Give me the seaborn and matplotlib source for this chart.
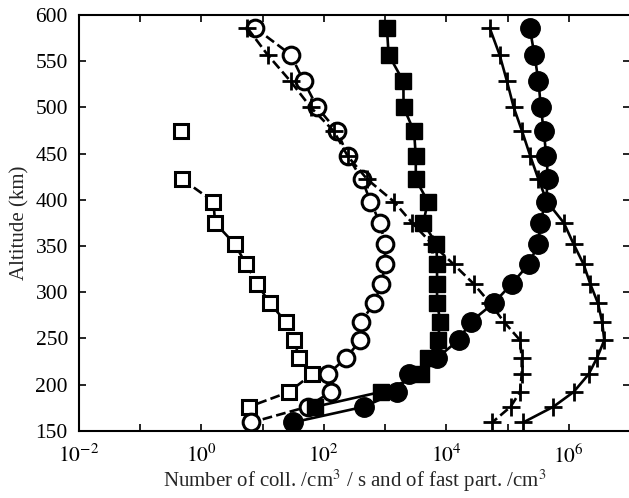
import numpy as np
import pandas as pd
import matplotlib
matplotlib.use("Agg")
import matplotlib.pyplot as plt
import seaborn as sns
from matplotlib.ticker import FixedLocator, FuncFormatter, NullLocator

sns.set_theme(style="ticks")
plt.rcParams["font.family"] = ["Liberation Serif", "DejaVu Serif"]
plt.rcParams["mathtext.fontset"] = "stix"

# Altitude grid (km), top to bottom
altitude = [586, 557, 528, 500, 474, 447, 422, 398, 375, 352,
            330, 309, 288, 268, 248, 229, 211, 192, 176, 159]

# Collision rates (/cm^3/s), dashed curves
coll_squares_alt = [422, 398, 375, 352, 330, 309, 288, 268, 248, 229, 211, 192, 176]
coll_squares = [0.49, 1.57, 1.67, 3.5, 5.4, 8.2, 13, 24, 33, 39, 63, 27, 6.0]
coll_square_isolated_alt = [474]
coll_square_isolated = [0.46]

coll_circles_alt = altitude
coll_circles = [7.5, 28.7, 47, 78, 166, 246, 420, 576, 822, 1000,
                1000, 870, 660, 405, 395, 232, 115, 129, 54, 6.5]

coll_plus_alt = altitude
coll_plus = [5.6, 12, 28.7, 61, 146, 246, 513, 1390, 2760, 5900,
             13200, 28000, 52000, 87000, 1.6e5, 1.7e5, 1.7e5, 1.6e5, 1.12e5, 5.6e4]

# Fast-particle densities (/cm^3), solid curves
fast_squares_alt = altitude[:-1]
fast_squares = [1070, 1140, 1990, 2000, 2970, 3170, 3170, 5000, 4200, 6900,
                7050, 7050, 7050, 8000, 7200, 5100, 3900, 850, 72]

fast_circles_alt = altitude
fast_circles = [2.3e5, 2.75e5, 3.2e5, 3.5e5, 3.9e5, 4.3e5, 4.6e5, 4.2e5, 3.4e5, 3.2e5,
                2.2e5, 1.17e5, 5.9e4, 2.5e4, 1.58e4, 7100, 2450, 1580, 450, 31]

fast_plus_alt = altitude
fast_plus = [5.1e4, 7.4e4, 9.8e4, 1.26e5, 1.73e5, 2.36e5, 3.2e5, 4.4e5, 8.3e5, 1.2e6,
             1.75e6, 2.24e6, 3.0e6, 3.5e6, 3.8e6, 2.9e6, 2.1e6, 1.2e6, 5.6e5, 1.8e5]

fig = plt.figure(figsize=(6.29, 4.98), dpi=100)
ax = fig.add_axes([0.1256, 0.135, 0.8760, 0.835])

dash = (3.0, 2.0)
lw = 1.9
k = "black"


def curve(x, y, marker, ls, ms, filled, mew=2.2, dashes=None, line=True):
    df = pd.DataFrame({"x": x, "y": y})
    kw = dict(data=df, x="x", y="y", sort=False, estimator=None, orient="y",
              color=k, ax=ax, marker=marker, markersize=ms,
              markeredgecolor=k, markeredgewidth=mew,
              markerfacecolor=(k if filled else "white"),
              linewidth=(lw if line else 0), linestyle=ls)
    if dashes is not None:
        kw["dashes"] = dashes
    sns.lineplot(**kw)


# dashed collision curves
curve(coll_squares, coll_squares_alt, "s", "--", 9.5, False, dashes=dash)
curve(coll_square_isolated, coll_square_isolated_alt, "s", "", 9.5, False, line=False)
curve(coll_circles, coll_circles_alt, "o", "--", 12, False, dashes=dash)
curve(coll_plus, coll_plus_alt, "+", "--", 13, False, mew=2.0, dashes=dash)

# solid fast-particle curves
curve(fast_squares, fast_squares_alt, "s", "-", 11, True, mew=1.0)
curve(fast_circles, fast_circles_alt, "o", "-", 14, True, mew=1.0)
curve(fast_plus, fast_plus_alt, "+", "-", 13, False, mew=2.0)

ax.set_xscale("log")
ax.set_xlim(1e-2, 1e7)
ax.set_ylim(150, 600)

ax.xaxis.set_major_locator(FixedLocator([10.0 ** p for p in range(-2, 8)]))
ax.xaxis.set_minor_locator(NullLocator())


def fmt(v, pos):
    p = int(round(np.log10(v)))
    if p % 2 == 0 and p <= 6:
        return r"$10^{%d}$" % p
    return ""


ax.xaxis.set_major_formatter(FuncFormatter(fmt))
ax.set_yticks(np.arange(150, 601, 50))

ax.tick_params(axis="both", which="major", direction="in", length=5, width=1.2,
               top=True, right=True, labelsize=15.5, colors=k)
ax.tick_params(axis="x", pad=10)
ax.tick_params(axis="y", pad=8)
for s in ax.spines.values():
    s.set_linewidth(1.5)
    s.set_color(k)

ax.set_xlabel(r"Number of coll. /cm$^3$ / s and of fast part. /cm$^3$",
              fontsize=15, labelpad=0)
ax.set_ylabel("Altitude (km)", fontsize=15, labelpad=4)
ax.grid(False)

fig.savefig("out.png", dpi=100)
